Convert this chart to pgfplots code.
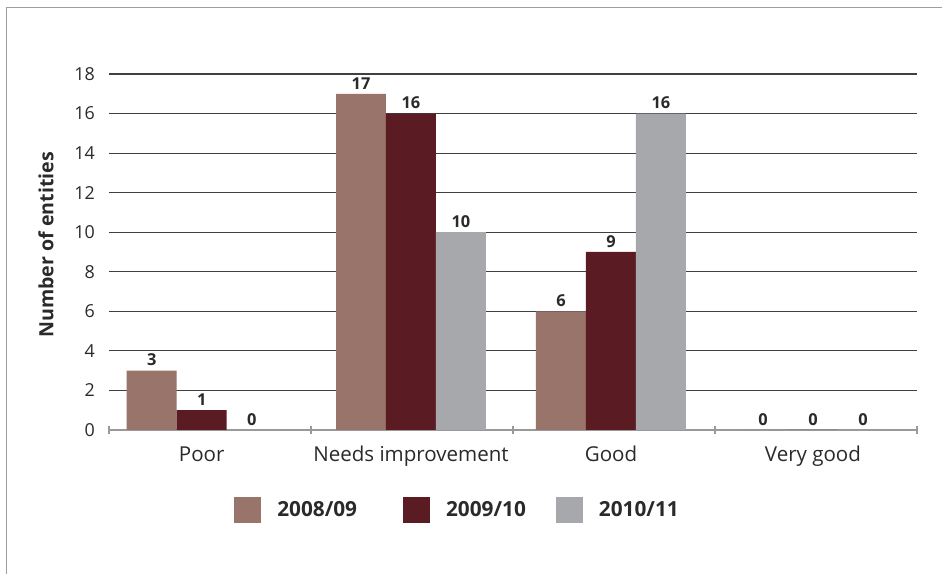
\documentclass[border=0pt]{standalone}
\usepackage{fontspec}
\setmainfont{Open Sans}
\usepackage{pgfplots}
\pgfplotsset{compat=1.18}
\definecolor{cA}{HTML}{98746A}
\definecolor{cB}{HTML}{5A1C22}
\definecolor{cC}{HTML}{A7A8AB}
\definecolor{txt}{HTML}{2A2A2A}
\begin{document}
\begin{tikzpicture}
\useasboundingbox (0,0) rectangle (706.5pt,430.5pt);
\fill[white] (0,0) rectangle (706.5pt,430.5pt);
\draw[gray!75, line width=1.1pt] (4.9pt,0) -- (4.9pt,424.9pt) -- (706.5pt,424.9pt);
\begin{axis}[
  at={(81.75pt,108pt)}, anchor=south west,
  scale only axis, width=606pt, height=267pt,
  /pgf/number format/assume math mode=true,
  ybar=0pt, bar width=0.2475,
  xmin=-0.5, xmax=3.5, ymin=0, ymax=18,
  xtick={-0.041,0.995,1.985,2.985},
  xticklabels={Poor,Needs improvement,Good,Very good},
  minor xtick={-0.5,0.5,1.5,2.5,3.5},
  major tick length=0pt, minor tick length=6pt,
  tick align=outside,
  minor tick style={draw=gray!80, line width=0.9pt},
  ytick={0,2,...,18},
  axis x line=bottom, axis y line=left,
  x axis line style={-, draw=gray!80, line width=1pt},
  y axis line style={draw=none},
  ymajorgrids, grid style={draw=black!75, line width=0.8pt},
  yticklabel style={font=\fontsize{13.4}{16}\selectfont, text=txt, anchor=east, inner sep=0pt, xshift=-10.5pt},
  xticklabel style={font=\fontsize{15.4}{18}\selectfont, text=txt, anchor=base, inner sep=0pt, yshift=-23.5pt},
  ylabel={\bfseries Number of entities},
  ylabel style={font=\fontsize{14.7}{17}\selectfont, text=txt, at={(axis description cs:-0.078,0.52)}, anchor=center},
  nodes near coords,
  every node near coord/.append style={font=\fontsize{12.3}{14}\selectfont\bfseries, text=txt, anchor=base, inner sep=0pt, yshift=3.5pt},
  legend columns=3,
  legend style={draw=none, fill=none, inner sep=0pt, at={(rel axis cs:0.1547,-0.2247)}, anchor=west,
    font=\fontsize{15.6}{18}\selectfont\bfseries, text=txt,
    nodes={inner sep=0pt},
    /tikz/every odd column/.append style={column sep=12pt},
    /tikz/column 2/.append style={column sep=34.5pt},
    /tikz/column 4/.append style={column sep=22.5pt}},
  legend image code/.code={\fill[#1] (0pt,-10.1pt) rectangle (20.25pt,10.1pt);},
]
\addplot[fill=cA, draw=none] coordinates {(-0.041,3) (0.995,17) (1.985,6) (2.985,0)};
\addplot[fill=cB, draw=none] coordinates {(-0.041,1) (0.995,16) (1.985,9) (2.985,0)};
\addplot[fill=cC, draw=none] coordinates {(-0.041,0) (0.995,10) (1.985,16) (2.985,0)};
\legend{2008/09,2009/10,2010/11}
\end{axis}
\end{tikzpicture}
\end{document}
